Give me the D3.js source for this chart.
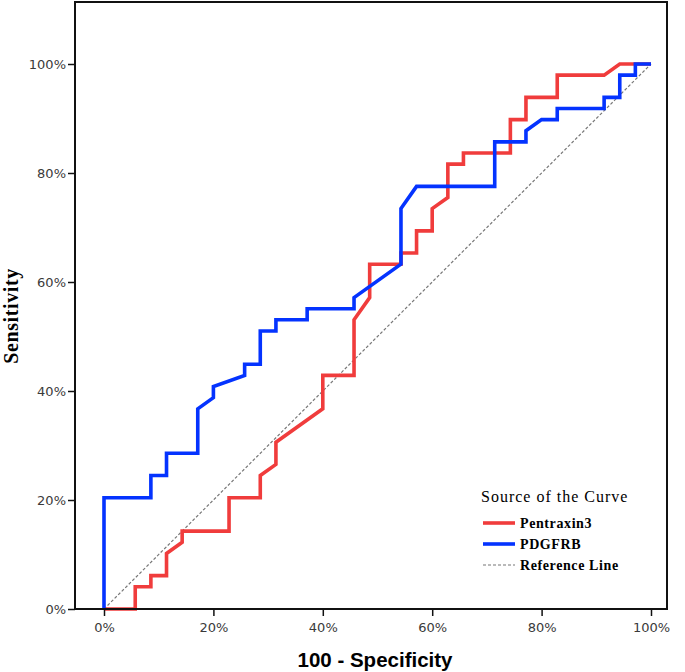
<!DOCTYPE html>
<html>
<head>
<meta charset="utf-8">
<script src="https://cdn.jsdelivr.net/npm/d3@7"></script>
<style>
  body { margin: 0; background: #fff; }
  .tick-label { font-family: "DejaVu Sans", sans-serif; font-size: 13px; fill: #3a3a3a; }
  .legend-text { font-family: "Liberation Serif", serif; }
</style>
</head>
<body>
<div id="chart"></div>
<script>
// --- DATOS (en %) ---
const tickValues = [0, 20, 40, 60, 80, 100];

const pentraxinFpr = [0, 5.71, 5.71, 8.57, 8.57, 11.43, 11.43, 14.29, 14.29, 22.86, 22.86, 28.57, 28.57, 31.43, 31.43, 40, 40, 45.71, 45.71, 48.57, 48.57, 54.29, 54.29, 57.14, 57.14, 60, 60, 62.86, 62.86, 65.71, 65.71, 74.29, 74.29, 77.14, 77.14, 82.86, 82.86, 91.43, 94.29, 100];
const pentraxinTpr = [0, 0, 4.08, 4.08, 6.12, 6.12, 10.2, 12.24, 14.29, 14.29, 20.41, 20.41, 24.49, 26.53, 30.61, 36.73, 42.86, 42.86, 53.06, 57.14, 63.27, 63.27, 65.31, 65.31, 69.39, 69.39, 73.47, 75.51, 81.63, 81.63, 83.67, 83.67, 89.8, 89.8, 93.88, 93.88, 97.96, 97.96, 100, 100];

const pdgfrbFpr = [0, 0, 8.57, 8.57, 11.43, 11.43, 17.14, 17.14, 20, 20, 25.71, 25.71, 28.57, 28.57, 31.43, 31.43, 37.14, 37.14, 45.71, 45.71, 54.29, 54.29, 57.14, 71.43, 71.43, 77.14, 77.14, 80, 82.86, 82.86, 91.43, 91.43, 94.29, 94.29, 97.14, 97.14, 100];
const pdgfrbTpr = [0, 20.41, 20.41, 24.49, 24.49, 28.57, 28.57, 36.73, 38.78, 40.82, 42.86, 44.9, 44.9, 51.02, 51.02, 53.06, 53.06, 55.1, 55.1, 57.14, 63.27, 73.47, 77.55, 77.55, 85.71, 85.71, 87.76, 89.8, 89.8, 91.84, 91.84, 93.88, 93.88, 97.96, 97.96, 100, 100];

const refLine = [0, 100];

// --- LIENZO ---
const W = 685, H = 672;
const svg = d3.select("#chart").append("svg")
    .attr("width", W).attr("height", H);

const x = d3.scaleLinear().domain([0, 100]).range([104, 651]);
const y = d3.scaleLinear().domain([0, 100]).range([609, 64]);

const frame = {left: 75, right: 667, top: 2, bottom: 609};

// Línea de referencia
svg.append("line")
    .attr("x1", x(refLine[0])).attr("y1", y(refLine[0]))
    .attr("x2", x(refLine[1])).attr("y2", y(refLine[1]))
    .attr("stroke", "#777").attr("stroke-width", 1.2)
    .attr("stroke-dasharray", "3,2");

// Curvas
const line = d3.line().x(d => x(d[0])).y(d => y(d[1]));
const curves = [
  {fpr: pentraxinFpr, tpr: pentraxinTpr, color: "#f03c3c"},
  {fpr: pdgfrbFpr, tpr: pdgfrbTpr, color: "#0433ff"}
];
curves.forEach(c => {
  svg.append("path")
    .datum(c.fpr.map((v, i) => [v, c.tpr[i]]))
    .attr("fill", "none")
    .attr("stroke", c.color)
    .attr("stroke-width", 3.6)
    .attr("stroke-linejoin", "miter")
    .attr("d", line);
});

// Marco
svg.append("rect")
    .attr("x", frame.left).attr("y", frame.top)
    .attr("width", frame.right - frame.left)
    .attr("height", frame.bottom - frame.top)
    .attr("fill", "none").attr("stroke", "#111").attr("stroke-width", 2);

// Ejes
const xAxis = svg.append("g")
    .attr("transform", `translate(0,${frame.bottom})`)
    .call(d3.axisBottom(x).tickValues(tickValues).tickSize(7).tickFormat(d => d + "%"));
const yAxis = svg.append("g")
    .attr("transform", `translate(${frame.left},0)`)
    .call(d3.axisLeft(y).tickValues(tickValues).tickSize(7).tickFormat(d => d + "%"));
[xAxis, yAxis].forEach(g => {
  g.select(".domain").remove();
  g.selectAll(".tick line").attr("stroke", "#111").attr("stroke-width", 1.5);
  g.selectAll(".tick text").attr("class", "tick-label").attr("fill", null);
});
xAxis.selectAll(".tick text").attr("y", 14);
yAxis.selectAll(".tick text").attr("x", -9);

// Etiquetas de ejes
svg.append("text")
    .attr("x", 375).attr("y", 667)
    .attr("text-anchor", "middle")
    .style("font-family", "Liberation Sans, Arial, sans-serif")
    .style("font-weight", "bold").style("font-size", "20.5px")
    .text("100 - Specificity");

svg.append("text")
    .attr("transform", "translate(18,316) rotate(-90)")
    .attr("text-anchor", "middle")
    .style("font-family", "Liberation Serif, serif")
    .style("font-weight", "bold").style("font-size", "20px")
    .style("letter-spacing", "0.6px")
    .text("Sensitivity");

// Leyenda
const legend = svg.append("g");
legend.append("text").attr("class", "legend-text")
    .attr("x", 481).attr("y", 502)
    .style("font-size", "16px").style("letter-spacing", "1px")
    .text("Source of the Curve");

const legendItems = [
  {name: "Pentraxin3", color: "#f03c3c", dash: null, w: 3.6},
  {name: "PDGFRB", color: "#0433ff", dash: null, w: 3.6},
  {name: "Reference Line", color: "#777", dash: "3,2", w: 1.2}
];
legendItems.forEach((d, i) => {
  const ly = 523 + i * 21;
  legend.append("line")
    .attr("x1", 483).attr("x2", 515).attr("y1", ly).attr("y2", ly)
    .attr("stroke", d.color).attr("stroke-width", d.w)
    .attr("stroke-dasharray", d.dash);
  legend.append("text").attr("class", "legend-text")
    .attr("x", 520).attr("y", ly + 5)
    .style("font-size", "14px").style("font-weight", "bold")
    .style("letter-spacing", "0.6px")
    .text(d.name);
});
</script>
</body>
</html>
